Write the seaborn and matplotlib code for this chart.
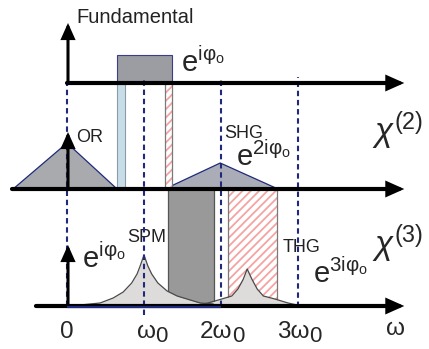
import matplotlib
matplotlib.use("Agg")
import matplotlib.pyplot as plt
import pandas as pd
import seaborn as sns
from matplotlib.patches import Rectangle, Polygon

# ---- frequency axis (units of omega_0) ----
harmonic_ticks = [0, 1, 2, 3]
harmonic_main = ["0", "\u03c9", "2\u03c9", "3\u03c9"]
harmonic_sub = ["", "0", "0", "0"]

# ---- fundamental spectrum: flat-top band ----
fund_band = [0.65, 1.36]
fund_height = 28

# ---- chi(2) products ----
or_edges = [-0.70, 0.0, 0.65]      # optical rectification triangle (left, peak, right)
or_height = 46
shg_edges = [1.27, 1.99, 2.74]     # second harmonic triangle
shg_height = 26
or_strip = [0.65, 0.75]            # low-frequency edge of the pump band
shg_strip = [1.27, 1.36]           # high-frequency edge of the pump band

# ---- chi(3) products ----
spm_strip = [1.31, 1.91]
thg_strip = [2.09, 2.73]
spm_x = [0.17, 0.43, 0.60, 0.73, 0.84, 0.91, 0.95, 1.00, 1.05, 1.10, 1.18,
         1.30, 1.43, 1.60, 1.73, 1.90]
spm_h = [1, 3, 8, 14, 23, 32, 40, 51, 40, 32, 23, 15, 10, 6, 3, 2]
thg_x = [1.70, 1.83, 2.01, 2.14, 2.22, 2.29, 2.34, 2.40, 2.47, 2.55, 2.70,
         2.87, 2.99]
thg_h = [1, 3, 7, 10, 17, 27, 37, 27, 17, 10, 7, 3, 1]

# ---- styling ----
sns.set_style("white")
plt.rcParams["font.family"] = ["Liberation Sans", "DejaVu Sans"]
plt.rcParams["mathtext.fontset"] = "custom"
plt.rcParams["mathtext.rm"] = "Liberation Sans"
plt.rcParams["mathtext.it"] = "Liberation Sans:italic"
plt.rcParams["mathtext.bf"] = "Liberation Sans:bold"
plt.rcParams["mathtext.sf"] = "Liberation Sans"
plt.rcParams["mathtext.fallback"] = "stixsans"
plt.rcParams["hatch.linewidth"] = 1.3

NAVY = "#1f2a7c"
PINK = "#f5a3a3"

fig = plt.figure(figsize=(4.29, 3.49), dpi=100)
ax = fig.add_axes([0, 0, 1, 1])
ax.set_xlim(-0.870, 4.701)
ax.set_ylim(0, 349)
ax.axis("off")

# row baselines
y_fund, y_chi2, y_chi3 = 266, 160, 43

# pump band
ax.add_patch(Rectangle((fund_band[0], y_fund), fund_band[1] - fund_band[0], fund_height,
                       facecolor="#9b9da2", edgecolor="#3a3d8a", lw=0.8, zorder=2))

# triangles in the chi(2) row
for edges, h, fc in [(or_edges, or_height, "#a9aaae"), (shg_edges, shg_height, "#aaadb8")]:
    ax.add_patch(Polygon([(edges[0], y_chi2), (edges[1], y_chi2 + h), (edges[2], y_chi2)],
                         closed=True, facecolor=fc, edgecolor=NAVY, lw=0.9, zorder=2))

# strips linking the fundamental and chi(2) rows
ax.add_patch(Rectangle((or_strip[0], y_chi2), or_strip[1] - or_strip[0], y_fund - y_chi2,
                       facecolor="#c7dde8", edgecolor="#8b9ba8", lw=0.8, zorder=3))


def hatched(x0, x1, y0, y1, z):
    ax.add_patch(Rectangle((x0, y0), x1 - x0, y1 - y0, facecolor="white",
                           edgecolor=PINK, hatch="////", lw=0, zorder=z))
    ax.add_patch(Rectangle((x0, y0), x1 - x0, y1 - y0, fill=False,
                           edgecolor="#7a7a7a", lw=0.9, zorder=z + 0.1))


hatched(shg_strip[0], shg_strip[1], y_chi2, y_fund, 3)

# strips linking chi(2) and chi(3) rows
ax.add_patch(Rectangle((spm_strip[0], y_chi3), spm_strip[1] - spm_strip[0], y_chi2 - y_chi3,
                       facecolor="#999999", edgecolor="#555555", lw=0.9, zorder=3))
hatched(thg_strip[0], thg_strip[1], y_chi3, y_chi2, 3)

# SPM and THG line shapes
for xs, hs in [(spm_x, spm_h), (thg_x, thg_h)]:
    df = pd.DataFrame({"w": xs, "amp": [y_chi3 + v for v in hs]})
    ax.fill_between(df["w"], y_chi3, df["amp"], color="#dedbdb", lw=0, zorder=4)
    sns.lineplot(data=df, x="w", y="amp", ax=ax, color="#4a4a4a", lw=0.9,
                 sort=False, estimator=None, zorder=4.5)
ax.plot([0, 2], [y_chi3 - 0.5, y_chi3 - 0.5], color=NAVY, lw=1.6, zorder=7,
        solid_capstyle="butt")

# harmonic guides
guides = [(0, y_fund, y_chi3), (1, y_fund + 6, y_chi3 - 9),
          (2, y_fund + 6, y_chi3), (3, y_fund + 6, y_chi3 - 1)]
for xg, ya, yb in guides:
    ax.plot([xg, xg], [yb, ya], color=NAVY, lw=1.5, dashes=(2.6, 1.8), zorder=5)


def arrow(x0, y0, x1, y1, lw):
    ax.annotate("", xy=(x1, y1), xytext=(x0, y0),
                arrowprops=dict(arrowstyle="-|>,head_length=0.85,head_width=0.38",
                                lw=lw, color="black", shrinkA=0, shrinkB=0,
                                mutation_scale=10, joinstyle="miter"),
                zorder=6)


# frequency axes
arrow(0.0, y_fund, 4.38, y_fund, 3.0)
arrow(-0.714, y_chi2, 4.38, y_chi2, 3.0)
arrow(-0.403, y_chi3, 4.38, y_chi3, 3.0)
# amplitude arrows at zero frequency
arrow(0.013, y_fund, 0.013, 326, 2.2)
arrow(0.013, y_chi2, 0.013, 217, 2.2)
arrow(0.013, y_chi3, 0.013, 104, 2.2)

# labels
ax.text(0.117, 326, "Fundamental", fontsize=14.5, color="#222222", va="baseline")
ax.text(0.117, 207, "OR", fontsize=13, color="#222222", va="baseline")
ax.text(2.04, 211, "SHG", fontsize=13, color="#222222", va="baseline")
ax.text(0.78, 107, "SPM", fontsize=13, color="#222222", va="baseline")
ax.text(2.805, 97, "THG", fontsize=13, color="#222222", va="baseline")

ax.text(1.48, 277, r"$\mathrm{e^{i\varphi_o}}$", fontsize=21, va="baseline")
ax.text(2.195, 183, r"$\mathrm{e^{2i\varphi_o}}$", fontsize=21, va="baseline")
ax.text(0.195, 81, r"$\mathrm{e^{i\varphi_o}}$", fontsize=21, va="baseline")
ax.text(3.195, 66, r"$\mathrm{e^{3i\varphi_o}}$", fontsize=21, va="baseline")

ax.text(3.96, 207, r"$\chi^{(2)}$", fontsize=24, va="baseline")
ax.text(3.96, 94, r"$\chi^{(3)}$", fontsize=24, va="baseline")

for t, main, sub in zip(harmonic_ticks, harmonic_main, harmonic_sub):
    if sub:
        anchor = t + 0.15
        ax.text(anchor, 11, main, fontsize=17.5, ha="right", va="baseline")
        ax.text(anchor, 7, sub, fontsize=16, ha="left", va="baseline")
    else:
        ax.text(t, 11, main, fontsize=17.5, ha="center", va="baseline")
ax.text(4.26, 14, "\u03c9", fontsize=17.5, ha="center", va="baseline")

fig.savefig("out.png", dpi=100)
